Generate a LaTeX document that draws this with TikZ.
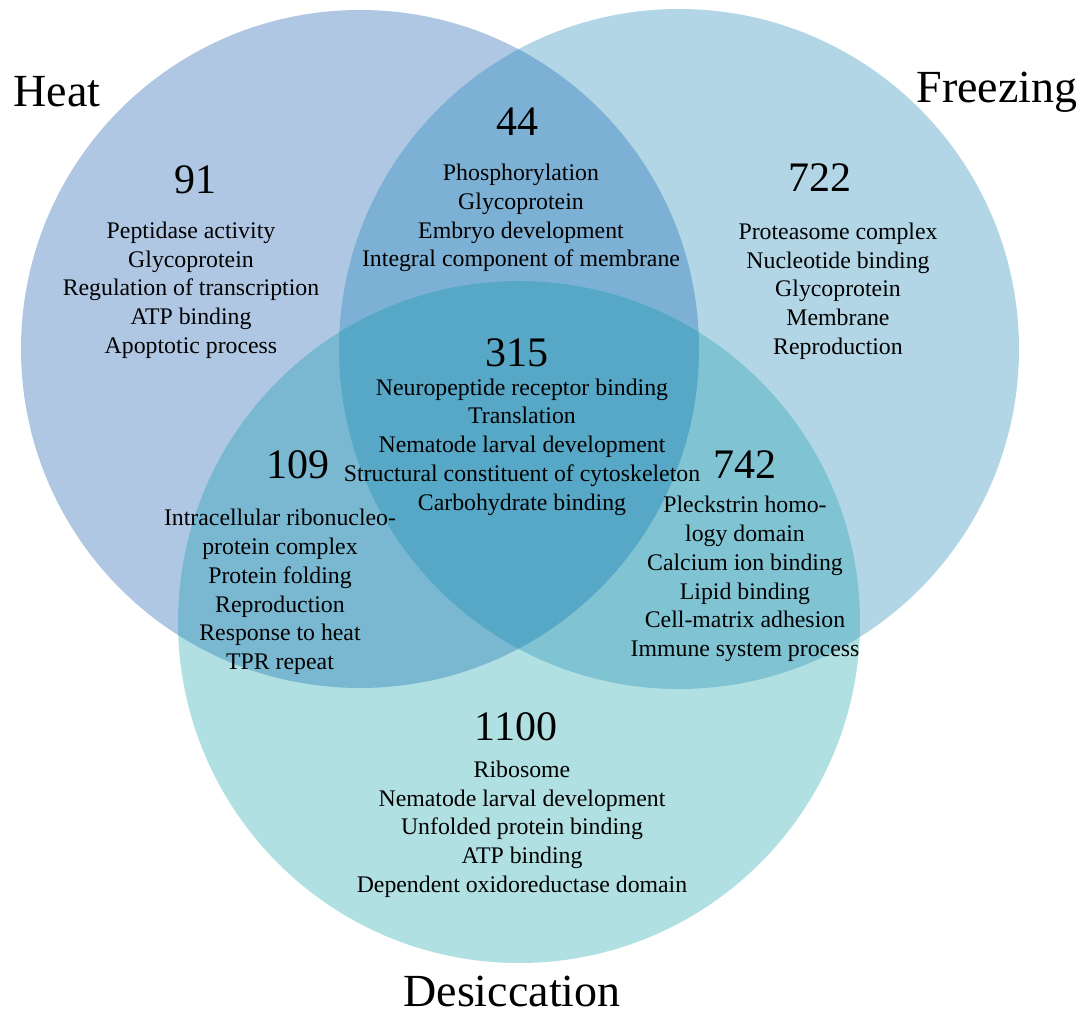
\documentclass[tikz,border=0pt]{standalone}
\usepackage{fontspec}
\setmainfont{Liberation Serif}
\definecolor{cH}{RGB}{176,199,228}
\definecolor{cF}{RGB}{178,214,230}
\definecolor{cD}{RGB}{177,224,226}
\definecolor{cHF}{RGB}{124,176,212}
\definecolor{cHD}{RGB}{122,184,210}
\definecolor{cFD}{RGB}{128,196,212}
\definecolor{cHFD}{RGB}{86,168,198}
\tikzset{
  title/.style={font=\fontsize{46}{50}\selectfont, inner sep=0pt},
  num/.style={font=\fontsize{42}{46}\selectfont, inner sep=0pt},
  terms/.style={font=\fontsize{23.8}{28.7}\selectfont, align=center, inner sep=0pt},
}
\begin{document}
\begin{tikzpicture}[x=1pt,y=-1pt]
\path[use as bounding box, fill=white] (0,0) rectangle (1088,1016);
\def\heat{(360,349) circle[radius=339pt]}
\def\frz{(679,349) circle[radius=340pt]}
\def\des{(519,622) circle[radius=341pt]}
% base fills
\fill[cH] \heat;
\fill[cF] \frz;
\fill[cD] \des;
% pairwise overlaps
\begin{scope}\clip \heat; \fill[cHF] \frz; \end{scope}
\begin{scope}\clip \heat; \fill[cHD] \des; \end{scope}
\begin{scope}\clip \frz; \fill[cFD] \des; \end{scope}
\begin{scope}\clip \heat; \clip \frz; \fill[cHFD] \des; \end{scope}
% titles
\node[title] (theat) at (57,92) {Heat};
\node[title] (tfrz) at (997,92) {Freezing};
\node[title] (tdes) at (512,991) {Desiccation};
% Heat only
\node[num] (n91) at (195,180) {91};
\node[terms] (t91) at (191,290) {Peptidase activity\\Glycoprotein\\Regulation of transcription\\ATP binding\\Apoptotic process};
% Heat & Freezing
\node[num] (n44) at (517,122) {44};
\node[terms] (t44) at (521,218) {Phosphorylation\\Glycoprotein\\Embryo development\\Integral component of membrane};
% Freezing only
\node[num] (n722) at (820,178) {722};
\node[terms] (t722) at (838,291) {Proteasome complex\\Nucleotide binding\\Glycoprotein\\Membrane\\Reproduction};
% all three
\node[num] (n315) at (517,353) {315};
\node[terms] (t315) at (522,447) {Neuropeptide receptor binding\\Translation\\Nematode larval development\\Structural constituent of cytoskeleton\\Carbohydrate binding};
% Heat & Desiccation
\node[num] (n109) at (298,465) {109};
\node[terms] (t109) at (280,592) {Intracellular ribonucleo-\\protein complex\\Protein folding\\Reproduction\\Response to heat\\TPR repeat};
% Freezing & Desiccation
\node[num] (n742) at (745,465) {742};
\node[terms] (t742) at (745,579) {Pleckstrin homo-\\logy domain\\Calcium ion binding\\Lipid binding\\Cell-matrix adhesion\\Immune system process};
% Desiccation only
\node[num] (n1100) at (516,727) {1100};
\node[terms] (t1100) at (522,829) {Ribosome\\Nematode larval development\\Unfolded protein binding\\ATP binding\\Dependent oxidoreductase domain};
\end{tikzpicture}
\end{document}
